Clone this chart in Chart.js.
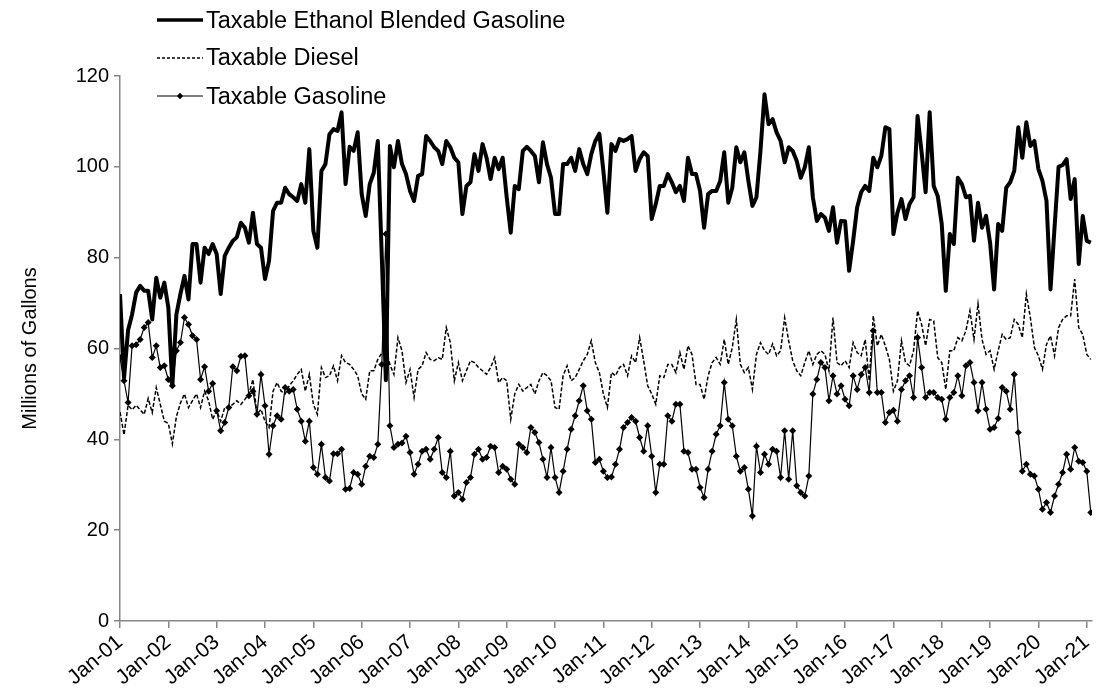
<!DOCTYPE html>
<html><head><meta charset="utf-8">
<script src="https://cdn.jsdelivr.net/npm/chart.js@4.4.1/dist/chart.umd.min.js"></script>
<style>
html,body{margin:0;padding:0;background:#fff;}
#wrap{position:relative;width:1096px;height:689px;overflow:hidden;background:#fff;}
#c{position:absolute;left:0;top:0;}
.leg{position:absolute;left:157px;height:28px;display:flex;align-items:center;font-family:"Liberation Sans",Arial,sans-serif;font-size:23.5px;color:#000;white-space:nowrap;}
.leg svg{margin-right:3px;display:block;}
</style></head><body>
<div id="wrap"><canvas id="c" width="1096" height="689"></canvas><div id="legend"></div></div>
<script>
const seriesNames = ['Taxable Ethanol Blended Gasoline', 'Taxable Diesel', 'Taxable Gasoline'];
const tickLabels = ['Jan-01','Jan-02','Jan-03','Jan-04','Jan-05','Jan-06','Jan-07','Jan-08','Jan-09','Jan-10','Jan-11','Jan-12','Jan-13','Jan-14','Jan-15','Jan-16','Jan-17','Jan-18','Jan-19','Jan-20','Jan-21'];
const yTicks = [0, 20, 40, 60, 80, 100, 120];
const yTitle = 'Millions of Gallons';

const ethanol = [
72, 53.5, 64, 67.5, 72.3, 73.8, 72.7, 72.7, 66.4, 75.6, 71.2, 74.5, 69, 51.8, 67.5, 72, 76, 70.8, 83, 83, 74.5, 82.2, 80.8, 83, 80.8, 72, 80.4, 82.2, 83.7, 84.5,
87.7, 86.6, 83.3, 89.9, 83, 82.2, 75.3, 79.3, 90.3, 92.1, 92.1, 95.4, 94, 93.3, 92.5, 96.2, 92.1, 103.9, 85.9, 82.2, 99.1, 100.6, 107.2, 108.3, 107.9, 112, 96.2, 104.4, 103.5, 107.6, 94,
89.2, 96.2, 98.7, 105.7, 80, 53, 104.6, 99.9, 105.7, 100.6, 98.4, 94.7, 92.5, 98, 98.4, 106.8, 105.7, 104.3, 103.5, 100.6, 105.7, 104.3, 102, 101, 89.6, 95.8, 96.6, 102.8, 99.1, 105,
102, 97.3, 102, 99.5, 102, 93.3, 85.5, 95.8, 95.1, 103.5, 104.4, 103.5, 102.4, 96.6, 105.4, 100.6, 97.6, 89.6, 89.6, 100.6, 100.6, 102, 99.1, 103.9, 100.6, 98.4, 102.8, 105.7, 107.3, 99.1, 89.9,
105, 103.5, 106.1, 105.7, 106.1, 106.8, 99.1, 101.7, 103.2, 102.4, 88.5, 91.8, 95.8, 95.8, 98.4, 96.6, 94.4, 95.8, 92.5, 102, 98.4, 98.4, 94.7, 86.6, 94, 94.7, 94.7, 96.9, 103.2, 92.1,
95.4, 104.3, 101, 103.2, 96.9, 91.4, 93.3, 103.5, 116, 109.4, 110.5, 107.6, 105.7, 101, 104.3, 103.5, 101.3, 97.6, 99.9, 104.3, 93.3, 88.1, 89.6, 88.8, 85.9, 91.1, 83.3, 88.1, 88, 77.1,
83.7, 91.1, 94.4, 95.8, 94.7, 102, 99.9, 102.4, 108.7, 108.3, 85.2, 89.9, 92.9, 88.5, 91.8, 93.3, 111.2, 103.2, 94.4, 112, 95.8, 93.6, 87.4, 72.7, 85.2, 83, 97.6, 96.2, 93.3, 93.6,
83.7, 92.1, 86.6, 89.2, 83.3, 73, 87.4, 85.9, 95.4, 96.6, 99.1, 108.7, 102, 109.8, 104.6, 105.7, 99.5, 96.9, 92.5, 73, 86.6, 100, 100.4, 101.7, 92.9, 97.3, 78.6, 89.2, 83.7, 83.3
];

const diesel = [
46, 41, 47.5, 46.5, 47.5, 46.5, 45.5, 49, 45.9, 51.4, 47.7, 44, 43.5, 39, 45, 48, 50, 47, 48.5, 50, 47, 50.6, 48.5, 44.4, 46.3, 44, 47, 47, 47.7, 48.5,
47.7, 48.8, 50, 53.2, 45.5, 46.6, 44, 42.6, 50.6, 52.5, 50.6, 50, 51.8, 52.9, 54.3, 55.4, 50.6, 54.3, 47.7, 45.5, 55.8, 53.6, 54, 56.2, 52.9, 58.4, 56.9, 56.5, 55.4, 54, 50,
48.8, 55.1, 55.1, 57.6, 59, 60, 56.5, 54.3, 62.4, 59.5, 52.5, 55.4, 49.2, 55.4, 56.2, 59.1, 57.6, 57.3, 58, 57.6, 64.6, 61.3, 52.9, 56.9, 52.9, 55.1, 57.3, 56.9, 55.8, 55.1,
54.3, 55.8, 58, 52.5, 53.6, 52.9, 44.4, 50, 52.1, 50.6, 51.4, 52.1, 50, 52.9, 54.7, 54, 52.9, 47, 46.6, 54, 56.2, 52.9, 53.6, 55.4, 57.3, 58.7, 61.7, 56.9, 54.7, 50, 47,
54.7, 54, 55.8, 56.5, 54, 58.4, 56.9, 62.4, 57.3, 51.8, 50, 47.7, 54, 53.6, 56.5, 56.5, 54.7, 59.1, 55.4, 60.6, 58.7, 52.1, 52.1, 48.8, 54, 56.9, 58, 56.5, 62, 56.5,
60.2, 66.4, 56.5, 54.7, 55.8, 51, 58.7, 61.3, 59.5, 58.7, 61, 58.4, 59.5, 66.8, 61.7, 57.3, 55.1, 54, 56.9, 59.5, 56.5, 58.7, 59.5, 58.7, 55.1, 66.8, 56.9, 56.2, 57.3, 55.8,
61.3, 59.1, 58.4, 62, 52.9, 67.2, 60.6, 63.1, 60.6, 57.6, 50.6, 52.9, 61.7, 56.9, 56.2, 59.5, 68.3, 65.3, 60.6, 66.4, 66.1, 58, 56.9, 51, 59.5, 59.5, 62.4, 61.7, 63.9, 68.3,
62, 69.8, 62, 58.7, 59.5, 55.4, 59.5, 63.1, 62, 62.4, 66.4, 65.3, 62.4, 72, 66.8, 60.2, 58.4, 55.4, 60.9, 62.8, 58.4, 64.6, 66.4, 67.2, 67.2, 75.3, 64.6, 63.1, 58.7, 57.6
];

const gasoline = [
58, 52.9, 48.1, 60.6, 60.8, 62, 64.6, 65.7, 58, 60.6, 55.8, 56.2, 53.2, 51.8, 59.5, 61.3, 66.8, 65.3, 62.8, 62, 53.2, 56, 50.6, 52.3, 46.3, 41.9, 43.7, 47, 56, 55.1, 58.3,
58.4, 49.6, 50.6, 45.5, 54.3, 47.4, 36.7, 43, 45.2, 44.4, 51.4, 50.6, 51, 46.6, 44, 39.6, 44, 33.8, 32.3, 38.9, 31.6, 30.8, 36.8, 36.8, 37.8, 29, 29.2, 32.7, 32.3, 30.1,
34.1, 36.3, 36, 38.9, 56.5, 85.2, 43, 38.2, 38.9, 39.2, 40.7, 37.1, 32.3, 34.5, 37.4, 37.8, 35.6, 37.8, 40.4, 32.7, 31.6, 37.4, 27.5, 28.3, 26.8, 30.5, 31.6, 36.7, 37.8, 35.6,
36, 38.5, 38.2, 32.7, 34.1, 33.4, 31.2, 30.1, 38.9, 38.2, 37.1, 42.6, 41.5, 39.3, 35.6, 31.6, 38.2, 31.6, 28.3, 33, 37.8, 42.2, 45.2, 48.5, 51.8, 46.3, 44.4, 34.9, 35.6, 33, 31.6,
31.7, 34.5, 37.8, 42.6, 43.7, 44.8, 44, 40.4, 37.4, 43, 36.3, 28.3, 34.5, 34.5, 45.2, 44, 47.7, 47.7, 37.4, 37.1, 33.4, 33.4, 29.4, 27.2, 33.4, 37.4, 41.1, 43, 52.5, 44.4,
43, 36.3, 33, 33.8, 29, 23.1, 38.5, 32.7, 36.7, 34.5, 37.8, 37.4, 31.6, 41.9, 31.2, 41.9, 29.8, 28.3, 27.5, 31.9, 50, 53.2, 56.9, 55.8, 48.5, 54, 50, 51.8, 48.8, 47.4,
54, 51, 54.3, 55.8, 50.3, 63.9, 50.3, 50.3, 43.7, 45.9, 46.4, 44, 51, 52.9, 54, 49.2, 62.4, 55.8, 49.2, 50.3, 50.3, 49.2, 48.8, 44.4, 49.2, 50.3, 54, 49.6, 56.2, 56.9,
52.5, 46.3, 52.5, 46.6, 42.2, 42.6, 44.6, 51.4, 50.6, 46.6, 54.3, 41.5, 33, 34.5, 32.3, 31.9, 29, 24.6, 26.1, 23.9, 27.5, 30.1, 32.7, 36.7, 33.4, 38.2, 35.2, 34.9, 33, 23.9
];

const FONT = '"Liberation Sans", Arial, sans-serif';
const AXIS = '#868686';
const toPts = arr => arr.map((v, i) => ({x: i, y: v}));

const datasets = [
  {label: seriesNames[0], data: toPts(ethanol), borderColor: '#000', borderWidth: 4, pointRadius: 0, order: 3, borderJoinStyle: 'round'},
  {label: seriesNames[1], data: toPts(diesel), borderColor: '#000', borderWidth: 1.5, borderDash: [4, 2], pointRadius: 0, order: 2},
  {label: seriesNames[2], data: toPts(gasoline), borderColor: '#000', borderWidth: 1.2, pointRadius: 3.5, pointStyle: 'rectRot', pointBackgroundColor: '#000', pointBorderColor: '#000', pointBorderWidth: 0, order: 1}
];

new Chart(document.getElementById('c'), {
  type: 'line',
  data: {datasets},
  options: {
    responsive: false, animation: false, devicePixelRatio: 1, events: [],
    layout: {padding: {top: 76, right: 0, bottom: 0, left: 0}},
    elements: {line: {tension: 0}},
    plugins: {legend: {display: false}, tooltip: {enabled: false}},
    scales: {
      x: {
        type: 'linear', min: 0, max: ethanol.length - 1 + 0.3,
        afterFit: s => { s.height = 68; s.paddingLeft = 0; s.paddingRight = 0; },
        border: {display: true, color: AXIS, width: 1.5},
        grid: {display: true, drawOnChartArea: false, drawTicks: true, tickLength: 7, color: AXIS, lineWidth: 1.5},
        ticks: {
          stepSize: 12, includeBounds: false, autoSkip: false, maxRotation: 40, minRotation: 40,
          color: '#000', font: {family: FONT, size: 21}, padding: 2,
          callback: v => tickLabels[v / 12] ?? ''
        }
      },
      y: {
        min: 0, max: 120,
        afterFit: s => { s.width = 120; },
        afterBuildTicks: s => { s.ticks = yTicks.map(v => ({value: v})); },
        border: {display: true, color: AXIS, width: 1.5},
        grid: {display: true, drawOnChartArea: false, drawTicks: true, tickLength: 6, color: AXIS, lineWidth: 1.5},
        ticks: {color: '#000', font: {family: FONT, size: 20}, padding: 5},
        title: {display: true, text: yTitle, color: '#000', font: {family: FONT, size: 20}, padding: {top: 18, bottom: 0}}
      }
    }
  }
});

// HTML legend built from the series names and dataset styles
const legendEl = document.getElementById('legend');
const rowCenters = [20, 57.5, 96];
const samples = [
  '<line x1="0" y1="8" x2="46" y2="8" stroke="#000" stroke-width="3.5"/>',
  '<line x1="0" y1="8" x2="46" y2="8" stroke="#000" stroke-width="1.3" stroke-dasharray="3,2"/>',
  '<line x1="0" y1="8" x2="46" y2="8" stroke="#000" stroke-width="1.1"/><polygon points="23,4.8 26.2,8 23,11.2 19.8,8" fill="#000"/>'
];
seriesNames.forEach((name, i) => {
  const row = document.createElement('div');
  row.className = 'leg';
  row.style.top = (rowCenters[i] - 14) + 'px';
  row.innerHTML = '<svg width="46" height="16" viewBox="0 0 46 16">' + samples[i] + '</svg><span>' + name + '</span>';
  legendEl.appendChild(row);
});
</script>
</body></html>
